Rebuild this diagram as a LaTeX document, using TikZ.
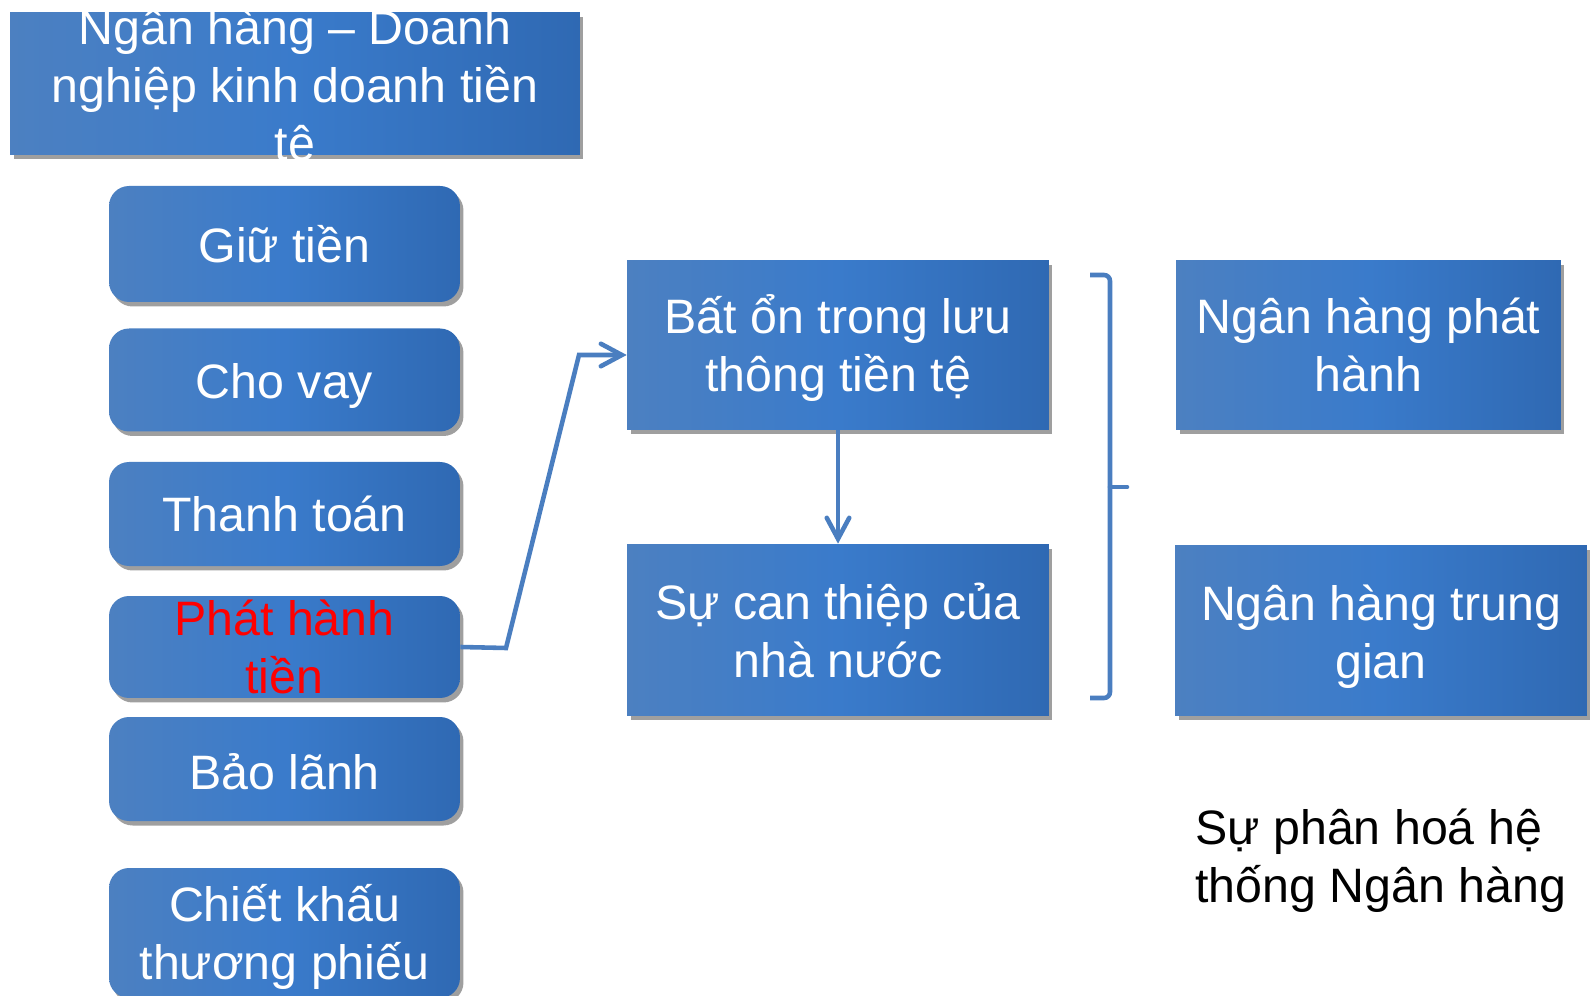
\documentclass[tikz,border=0pt]{standalone}
\usepackage{fontspec}
\setmainfont{Liberation Sans}
\usetikzlibrary{arrows.meta,shadows}

\begin{document}
\begin{tikzpicture}[x=0.02cm,y=-0.02cm,font=\fontsize{27.5}{33}\selectfont,
    box/.style={left color=boxl,right color=boxr,middle color=boxm,inner sep=0pt,
      drop shadow={shadow xshift=0.07cm,shadow yshift=-0.09cm,opacity=0.5,fill=black!75}},
    pill/.style={box,rounded corners=0.4cm,minimum width=7.02cm},
    txt/.style={text=white,align=center,inner sep=0pt},
    link/.style={draw=linkblue,line width=2.6pt,
      -{Straight Barb[length=0.42cm,width=0.45cm,line cap=round]}}]
  \definecolor{boxl}{HTML}{4C80C1}
  \definecolor{boxm}{HTML}{3A7BCB}
  \definecolor{boxr}{HTML}{2F69B3}
  \definecolor{linkblue}{HTML}{4A7EC0}
  \useasboundingbox (0,0) rectangle (1592,996);
  % left column
  \node[box,minimum width=11.4cm,minimum height=2.86cm,
        label={[txt,yshift=-0.1cm]center:Ngân hàng – Doanh\\nghiệp kinh doanh tiền\\tệ}] (bank) at (295,83.5) {};
  \foreach \n/\y/\h/\s/\t in {giu/244/116/0/Giữ tiền,vay/380/103/-0.12/Cho vay,
                              tt/514/104/0/Thanh toán,bl/769/104/-0.06/Bảo lãnh} {
    \node[pill,minimum height=\h*0.02cm,label={[txt,yshift=\s cm]center:\t}] (\n) at (284.5,\y) {};
  }
  \node[pill,minimum height=2.04cm,
        label={[txt,text=red]center:Phát hành\\tiền}] (ph) at (284.5,647) {};
  \node[pill,minimum height=2.6cm,
        label={[txt,yshift=-0.08cm]center:Chiết khấu\\thương phiếu}] (ck) at (284.5,933) {};
  % middle and right
  \node[box,minimum width=8.44cm,minimum height=3.4cm,
        label={[txt,yshift=-0.06cm]center:Bất ổn trong lưu\\thông tiền tệ}] (bat) at (838,345) {};
  \node[box,minimum width=8.44cm,minimum height=3.44cm,
        label={[txt]center:Sự can thiệp của\\nhà nước}] (can) at (838,630) {};
  \node[box,minimum width=7.7cm,minimum height=3.4cm,
        label={[txt]center:Ngân hàng phát\\hành}] (phh) at (1368.5,345) {};
  \node[box,minimum width=8.24cm,minimum height=3.42cm,
        label={[txt,yshift=-0.12cm]center:Ngân hàng trung\\gian}] (ntg) at (1381,630.5) {};
  \node[anchor=west,align=left,inner sep=0pt] (note) at (1195,861) {Sự phân hoá hệ\\thống Ngân hàng};
  % connectors
  \draw[link] (ph.east) -- (506,648) -- (579,355) -- ([yshift=-0.2cm]bat.west);
  \draw[link] (bat) -- (can);
  \draw[linkblue,line width=2.6pt,rounded corners=0.12cm] (1090,275) -- (1110,275) -- (1110,698) -- (1090,698);
  \draw[linkblue,line width=2.6pt,line cap=round] (1110,487) -- (1127,487);
\end{tikzpicture}
\end{document}
